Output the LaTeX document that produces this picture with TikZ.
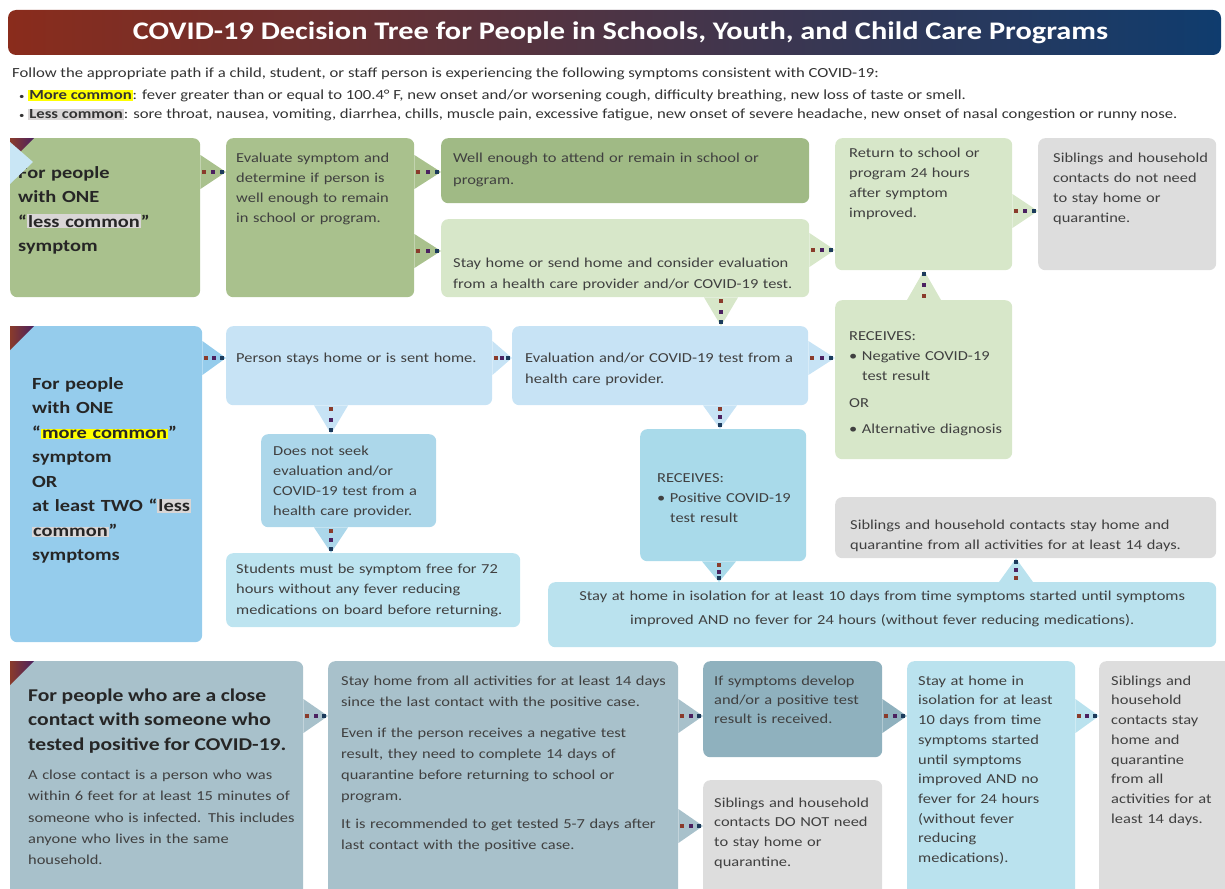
\documentclass[tikz,border=0pt]{standalone}
\usepackage{fontspec}
\setmainfont{Carlito}[FakeStretch=1.2]
\usetikzlibrary{decorations.markings}

\definecolor{titleA}{HTML}{8A2C1C}
\definecolor{titleB}{HTML}{5A1A66}
\definecolor{titleC}{HTML}{0F3C6E}
\definecolor{dotA}{HTML}{8A3B2B}
\definecolor{dotB}{HTML}{4B2160}
\definecolor{dotC}{HTML}{1D3B5C}
\definecolor{greenMid}{HTML}{A9C18D}
\definecolor{greenDark}{HTML}{A0BA85}
\definecolor{greenLight}{HTML}{D7E7C9}
\definecolor{grayBox}{HTML}{DDDDDD}
\definecolor{blueMid}{HTML}{95CCEC}
\definecolor{blueLight}{HTML}{C7E3F5}
\definecolor{blueSoft}{HTML}{ACD7EA}
\definecolor{blueCyan}{HTML}{BDE4F0}
\definecolor{blueTeal}{HTML}{A9DAEA}
\definecolor{blueIso}{HTML}{BAE2EE}
\definecolor{slate}{HTML}{A8C1CB}
\definecolor{slateDark}{HTML}{8FB1BE}
\definecolor{cornerBlue}{HTML}{C9E6F5}
\definecolor{hlyellow}{HTML}{FFFF00}
\definecolor{hlgray}{HTML}{D9D6D6}
\definecolor{boxtext}{HTML}{404040}
\definecolor{headtext}{HTML}{262626}
\definecolor{introtext}{HTML}{333333}
\setlength{\fboxsep}{1pt}

\begin{document}
\begin{tikzpicture}[x=1pt,y=-1pt,
% Box styles
    box/.style={rounded corners=7pt,anchor=north west,inner xsep=6pt,
        inner ysep=0pt,align=left,text=boxtext,
        font=\fontsize{13.7}{20}\selectfont},
    head/.style={box,text=headtext,font=\fontsize{17}{24.5}\selectfont\bfseries},
    intro/.style={anchor=base west,inner sep=0pt,text=introtext,
        font=\fontsize{13.9}{15}\selectfont},
    banner/.style={rounded corners=8pt,minimum width=1213pt,minimum height=45pt,
        left color=titleA,middle color=titleB,right color=titleC,
        text=white,font=\fontsize{25.3}{30}\selectfont\bfseries},
% Link style: pointer in the colour of the source and three squares
    link/.style={decoration={markings,
        mark=at position 0 with {\fill[#1] (0pt,-17pt)
            -- (\pgfdecoratedpathlength,0pt) -- (0pt,17pt) -- cycle;},
        mark=at position 4pt with {\fill[dotA] (-2pt,-2pt) rectangle (2pt,2pt);},
        mark=at position 0.5 with {\fill[dotB] (-2pt,-2pt) rectangle (2pt,2pt);},
        mark=at position -4pt with {\fill[dotC] (-2pt,-2pt) rectangle (2pt,2pt);}},
        postaction={decorate}},
% Corner mark style
    corner/.style={left color=dotA,right color=dotB}
    ]
    \useasboundingbox (0,0) rectangle (1225,888);

%% Title and symptom lists
    \node[banner] (title) at (614.5,32.5)
        {\hspace*{12pt}COVID-19 Decision Tree for People in Schools, Youth, and Child Care Programs};
    \node[intro] (intro1) at (12,78) {Follow the appropriate path if a child, student, or staff person is experiencing the following symptoms consistent with COVID-19:};
    \node[intro] (intro2) at (19,100) {\raisebox{1pt}{\fontsize{9}{9}\selectfont•} \colorbox{hlyellow}{\textbf{More common}}: fever greater than or equal to 100.4° F, new onset and/or worsening cough, difficulty breathing, new loss of taste or smell.};
    \node[intro] (intro3) at (19,119) {\raisebox{1pt}{\fontsize{9}{9}\selectfont•} \colorbox{hlgray}{\textbf{Less common}}: sore throat, nausea, vomiting, diarrhea, chills, muscle pain, excessive fatigue, new onset of severe headache, new onset of nasal congestion or runny nose.};

%% First row: one less common symptom
    \node[head,fill=greenMid,text width=178pt,text height=40pt,text depth=119pt]
        (less) at (10,138) {\leftskip=2pt\relax For people\\ with ONE\\
        “\colorbox{hlgray}{less common}”\\ symptom\par};
    \node[box,fill=greenMid,text width=176pt,text height=24pt,text depth=135pt]
        (evaluate) at (226,138) {\leftskip=4pt\relax Evaluate symptom and\\
        determine if person is\\ well enough to remain\\ in school or program.\par};
    \node[box,fill=greenDark,text width=356pt,text height=24pt,text depth=41pt,
        font=\fontsize{13.7}{22}\selectfont]
        (well) at (441,138) {\leftskip=6pt\relax Well enough to attend or remain in school or\\ program.\par};
    \node[box,fill=greenLight,text width=356pt,text height=48pt,text depth=30pt,
        font=\fontsize{13.7}{21}\selectfont]
        (sendhome) at (441,219) {\leftskip=6pt\relax Stay home or send home and consider evaluation\\
        from a health care provider and/or COVID-19 test.\par};
    \node[box,fill=greenLight,text width=165pt,text height=19pt,text depth=113pt]
        (return) at (835,138) {\leftskip=8pt\relax Return to school or\\ program 24 hours\\
        after symptom\\ improved.\par};
    \node[box,fill=grayBox,text width=166pt,text height=24pt,text depth=108pt]
        (sibfree) at (1038,138) {\leftskip=9pt\relax Siblings and household\\
        contacts do not need\\ to stay home or\\ quarantine.\par};
    \node[box,fill=greenLight,text width=165pt,text height=40pt,text depth=119pt]
        (negative) at (835,300) {\leftskip=8pt\relax RECEIVES:\\ • Negative COVID-19\\
        \hspace*{13pt}test result\\[7pt] OR\\[6pt] • Alternative diagnosis\par};

%% Second row: one more common or two less common symptoms
    \node[head,fill=blueMid,text width=180pt,text height=63pt,text depth=253pt]
        (more) at (10,326) {\leftskip=16pt\relax For people\\ with ONE\\
        “\colorbox{hlyellow}{more common}”\\ symptom\\ OR\\
        at least TWO “\colorbox{hlgray}{less}\\ \colorbox{hlgray}{common}”\\ symptoms\par};
    \node[box,fill=blueLight,text width=254pt,text height=36pt,text depth=43pt]
        (stays) at (226,326) {\leftskip=4pt\relax Person stays home or is sent home.\par};
    \node[box,fill=blueLight,text width=284pt,text height=36pt,text depth=43pt,
        font=\fontsize{13.7}{21}\selectfont]
        (provider) at (512,326) {\leftskip=7pt\relax Evaluation and/or COVID-19 test from a\\
        health care provider.\par};
    \node[box,fill=blueSoft,text width=163pt,text height=21pt,text depth=72pt]
        (noseek) at (261,434) {\leftskip=6pt\relax Does not seek\\ evaluation and/or\\
        COVID-19 test from a\\ health care provider.\par};
    \node[box,fill=blueCyan,text width=282pt,text height=20pt,text depth=54pt,
        font=\fontsize{13.7}{20.5}\selectfont]
        (symfree) at (226,553) {\leftskip=4pt\relax Students must be symptom free for 72\\
        hours without any fever reducing\\ medications on board before returning.\par};
    \node[box,fill=blueTeal,text width=154pt,text height=53pt,text depth=79pt]
        (positive) at (640,429) {\leftskip=11pt\relax RECEIVES:\\ • Positive COVID-19\\
        \hspace*{13pt}test result\par};
    \node[box,fill=grayBox,text width=369pt,text height=32pt,text depth=29pt]
        (sibstay) at (835,497) {\leftskip=9pt\relax Siblings and household contacts stay home and\\
        quarantine from all activities for at least 14 days.\par};
    \node[box,fill=blueIso,text width=656pt,text height=18pt,text depth=47pt,
        align=center,font=\fontsize{13.7}{24}\selectfont]
        (isolate) at (548,582) {Stay at home in isolation for at least 10 days from time symptoms started until symptoms\\
        improved AND no fever for 24 hours (without fever reducing medications).};

%% Third row: close contact
    \node[box,fill=slate,text width=281pt,text height=40pt,text depth=200pt]
        (contact) at (10,661) {\leftskip=12pt\relax{\color{headtext}\fontsize{18}{24.5}\selectfont
        \bfseries For people who are a close\\ contact with someone who\\
        tested positive for COVID-19.\par}\vspace{8pt}\fontsize{13.7}{21.3}\selectfont
        A close contact is a person who was\\ within 6 feet for at least 15 minutes of\\
        someone who is infected. This includes\\ anyone who lives in the same\\ household.\par};
    \node[box,fill=slate,text width=338pt,text height=24pt,text depth=216pt,
        font=\fontsize{13.7}{21}\selectfont]
        (quarantine) at (328,661) {\leftskip=7pt\relax Stay home from all activities for at least 14 days\\
        since the last contact with the positive case.\\[10pt]
        Even if the person receives a negative test\\ result, they need to complete 14 days of\\
        quarantine before returning to school or\\ program.\\[7pt]
        It is recommended to get tested 5-7 days after\\ last contact with the positive case.\par};
    \node[box,fill=slateDark,text width=167pt,text height=24pt,text depth=72pt,
        font=\fontsize{13.7}{19.3}\selectfont]
        (develop) at (703,661) {\leftskip=5pt\relax If symptoms develop\\
        and/or a positive test\\ result is received.\par};
    \node[box,fill=grayBox,text width=167pt,text height=27pt,text depth=93pt,
        font=\fontsize{13.7}{19.7}\selectfont]
        (sibnot) at (703,780) {\leftskip=5pt\relax Siblings and household\\
        contacts DO NOT need\\ to stay home or\\ quarantine.\par};
    \node[box,fill=blueIso,text width=156pt,text height=24pt,text depth=216pt,
        font=\fontsize{13.7}{19.7}\selectfont]
        (isolation) at (907,661) {\leftskip=5pt\relax Stay at home in\\ isolation for at least\\
        10 days from time\\ symptoms started\\ until symptoms\\ improved AND no\\
        fever for 24 hours\\ (without fever\\ reducing\\ medications).\par};
    \node[box,fill=grayBox,text width=140pt,text height=24pt,text depth=216pt,
        font=\fontsize{13.7}{19.7}\selectfont]
        (sibquar) at (1099,661) {\leftskip=6pt\relax Siblings and\\ household\\
        contacts stay\\ home and\\ quarantine\\ from all\\ activities for at\\ least 14 days.\par};

%% Row corner marks
    \shade[corner] (less.north west) -- ++(24,0) -- ++(-24,24) -- cycle;
    \fill[cornerBlue] ([yshift=-4pt]less.north west) -- ++(23,20) -- ++(-23,22) -- cycle;
    \shade[corner] (more.north west) -- ++(24,0) -- ++(-24,24) -- cycle;
    \shade[corner] (contact.north west) -- ++(24,0) -- ++(-24,24) -- cycle;

%% Links
    \path[link=greenMid] (less.east |- 0,172) -- (evaluate.west |- 0,172);
    \path[link=greenMid] (evaluate.east |- 0,172) -- (well.west |- 0,172);
    \path[link=greenMid] (evaluate.east |- 0,251) -- (sendhome.west |- 0,251);
    \path[link=greenLight] (sendhome.east |- 0,250) -- (return.west |- 0,250);
    \path[link=greenLight] (return.east |- 0,211) -- (sibfree.west |- 0,211);
    \path[link=greenLight] (negative.north -| 924,0) -- (return.south -| 924,0);
    \path[link=greenLight] (sendhome.south -| 721,0) -- (provider.north -| 721,0);
    \path[link=blueMid] (more.east |- 0,358) -- (stays.west |- 0,358);
    \path[link=blueLight] (stays.east |- 0,358) -- (provider.west |- 0,358);
    \path[link=blueLight] (provider.east |- 0,358) -- (negative.west |- 0,358);
    \path[link=blueLight] (stays.south -| 331,0) -- (noseek.north -| 331,0);
    \path[link=blueSoft] (noseek.south -| 331,0) -- (symfree.north -| 331,0);
    \path[link=blueLight] (provider.south -| 720,0) -- (positive.north -| 720,0);
    \path[link=blueTeal] (positive.south -| 719,0) -- (isolate.north -| 719,0);
    \path[link=blueIso] (isolate.north -| 1016,0) -- (sibstay.south -| 1016,0);
    \path[link=slate] (contact.east |- 0,716) -- (quarantine.west |- 0,716);
    \path[link=slate] (quarantine.east |- 0,716) -- (develop.west |- 0,716);
    \path[link=slate] (quarantine.east |- 0,826) -- (sibnot.west |- 0,826);
    \path[link=slateDark] (develop.east |- 0,716) -- (isolation.west |- 0,716);
    \path[link=blueIso] (isolation.east |- 0,716) -- (sibquar.west |- 0,716);

\end{tikzpicture}
\end{document}
